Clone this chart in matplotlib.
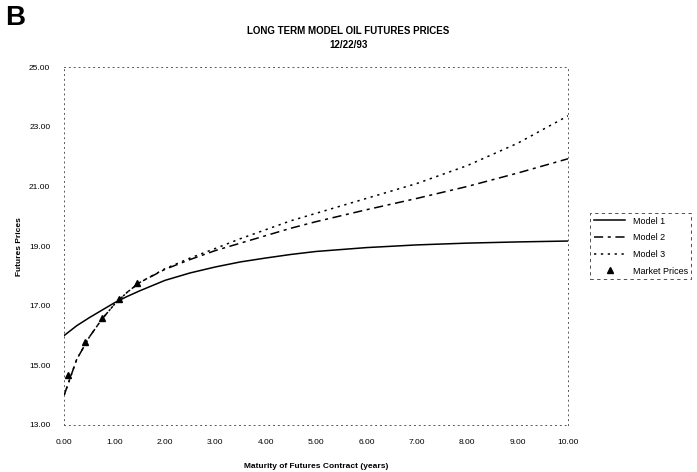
import matplotlib
matplotlib.use("Agg")
import matplotlib.pyplot as plt
import numpy as np

# maturity grid (years) and model curves
maturity = [0.0, 0.25, 0.5, 0.75, 1.0, 1.25, 1.5, 2.0, 2.5, 3.0, 3.5, 4.0, 4.5, 5.0, 6.0, 7.0, 8.0, 9.0, 10.0]
model_1 = [16.00, 16.33, 16.60, 16.85, 17.10, 17.31, 17.50, 17.85, 18.10, 18.30, 18.47, 18.60, 18.72,
           18.82, 18.95, 19.04, 19.10, 19.14, 19.17]
model_2 = [14.00, 15.20, 15.95, 16.55, 17.05, 17.45, 17.78, 18.22, 18.55, 18.85, 19.10, 19.35, 19.60,
           19.82, 20.22, 20.60, 21.00, 21.45, 21.93]
model_3 = [14.00, 15.20, 15.95, 16.55, 17.05, 17.45, 17.78, 18.24, 18.60, 18.92, 19.25, 19.55, 19.85,
           20.10, 20.60, 21.10, 21.70, 22.45, 23.37]

market_maturity = [0.08, 0.42, 0.75, 1.09, 1.45]
market_prices = [14.67, 15.77, 16.60, 17.23, 17.77]

x_ticks = [0, 1, 2, 3, 4, 5, 6, 7, 8, 9, 10]
y_ticks = [13, 15, 17, 19, 21, 23, 25]

plt.rcParams["font.family"] = ["Liberation Sans", "DejaVu Sans"]

fig = plt.figure(figsize=(6.97, 4.72), dpi=100)
ax = fig.add_axes([0.092, 0.0996, 0.723, 0.758])

ax.plot(maturity, model_1, color="black", linewidth=1.1, linestyle="-", label="Model 1")
ax.plot(maturity, model_2, color="black", linewidth=1.1, linestyle=(0, (6, 3, 2, 3)), label="Model 2")
ax.plot(maturity, model_3, color="black", linewidth=1.1, linestyle=(0, (1.5, 3)), label="Model 3")
ax.plot(market_maturity, market_prices, linestyle="none", marker="^", markersize=5,
        color="black", label="Market Prices")

ax.set_xlim(0, 10)
ax.set_ylim(13, 25)
ax.set_xticks(x_ticks, [f"{v:.2f}" for v in x_ticks])
ax.set_yticks(y_ticks, [f"{v:.2f}" for v in y_ticks])
ax.tick_params(length=0, labelsize=6, pad=10)
for spine in ax.spines.values():
    spine.set_linestyle((0, (1, 4)))
    spine.set_linewidth(0.7)
    spine.set_color("0.35")

ax.set_xlabel("Maturity of Futures Contract (years)", fontsize=6, fontweight="bold", labelpad=12)
ax.set_ylabel("Futures Prices", fontsize=6, fontweight="bold", labelpad=4)

fig.text(0.5, 0.935, "LONG TERM MODEL OIL FUTURES PRICES", ha="center", va="center",
         fontsize=7, fontweight="bold")
fig.text(0.5, 0.905, "12/22/93", ha="center", va="center", fontsize=7, fontweight="bold")
fig.text(0.008, 0.99, "B", ha="left", va="top", fontsize=20, fontweight="bold")

leg = ax.legend(loc="center left", bbox_to_anchor=(1.044, 0.5), fontsize=6.5, frameon=True,
                handlelength=3.5, borderaxespad=0, fancybox=False, borderpad=0.4, labelspacing=0.85)
leg.get_frame().set_edgecolor("black")
leg.get_frame().set_linewidth(0.6)
leg.get_frame().set_linestyle((0, (4, 4)))

fig.savefig("out.png", dpi=100)
plt.close(fig)
